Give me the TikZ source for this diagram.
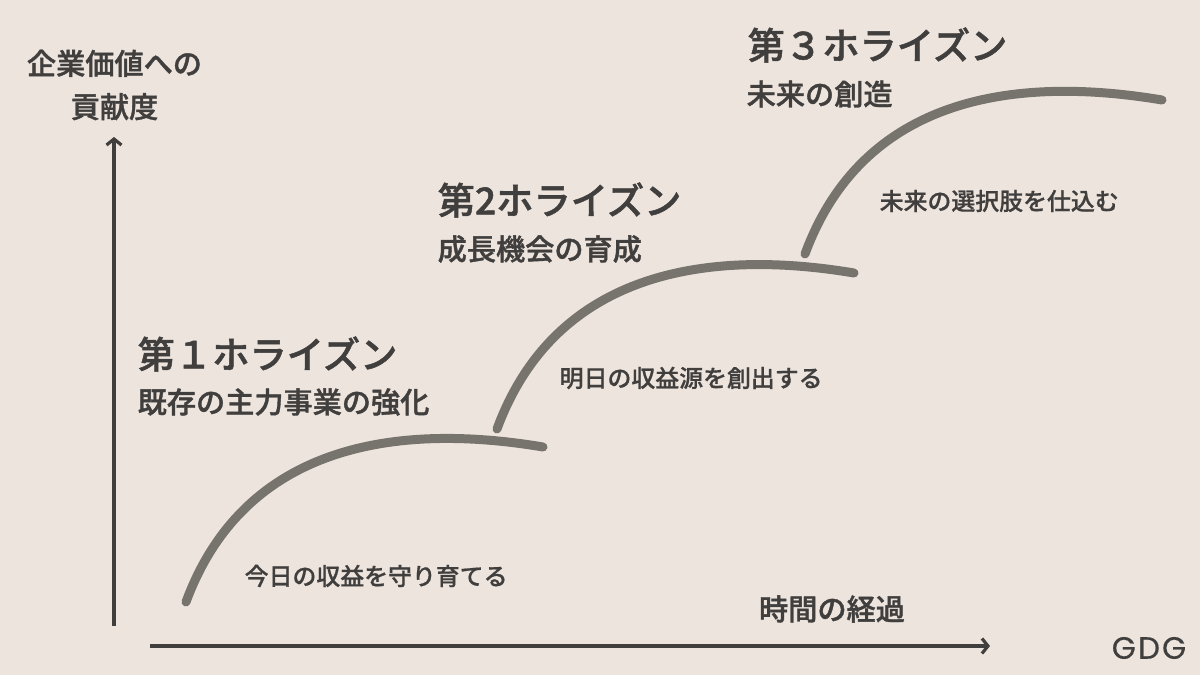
\documentclass[tikz,border=0pt]{standalone}
\usepackage{fontspec}
\setmainfont{Noto Sans CJK JP}
\newfontfamily\semifont[FakeBold=1.3]{Noto Sans CJK JP Medium}
\newfontfamily\capfont[FakeBold=0.7]{Noto Sans CJK JP Medium}
\newfontfamily\gdgfont[LetterSpace=7,FakeBold=0.3]{Poppins}
\usetikzlibrary{arrows.meta}
\definecolor{bgbeige}{HTML}{EDE4DE}
\definecolor{inkgray}{HTML}{403F3E}
\definecolor{curvegray}{HTML}{77736D}
\tikzset{
  axisline/.style={inkgray,line width=0.32mm,-{Straight Barb[length=0.6mm,width=1.5mm,line width=0.32mm]}},
  growth/.style={curvegray,line width=0.9mm,line cap=round},
  title/.style={inkgray,font=\fontsize{10.6pt}{12pt}\semifont,anchor=west,inner sep=0pt},
  subtitle/.style={inkgray,font=\fontsize{8.3pt}{10pt}\semifont,anchor=west,inner sep=0pt},
  caption/.style={inkgray,font=\fontsize{6.8pt}{8pt}\capfont,anchor=west,inner sep=0pt},
  axislabel/.style={inkgray,font=\fontsize{8.3pt}{12.3pt}\semifont,align=center,inner sep=0pt},
}
\begin{document}
\begin{tikzpicture}
\fill[bgbeige] (0,0) rectangle (12,6.75);
\useasboundingbox (0,0) rectangle (12,6.75);
% axes
\coordinate (ybottom) at (1.14,0.49);
\coordinate (ytop) at (1.14,5.38);
\coordinate (xleft) at (1.50,0.29);
\coordinate (xright) at (9.90,0.29);
\draw[axisline] (ybottom) -- (ytop);
\draw[axisline] (xleft) -- (xright);
\node[axislabel] (valuelabel) at (1.145,5.90) {企業価値への\\貢献度};
\node[axislabel] (timelabel) at (8.32,0.66) {時間の経過};
% horizons
\coordinate (hone) at (1.86,0.73);
\coordinate (honeend) at (5.43,2.28);
\coordinate (htwo) at (4.97,2.46);
\coordinate (htwoend) at (8.54,4.02);
\coordinate (hthree) at (8.05,4.21);
\coordinate (hthreeend) at (11.62,5.75);
\draw[growth] (hone) .. controls +(0.59,1.60) and +(-1.43,0.24) .. (honeend);
\draw[growth] (htwo) .. controls +(0.59,1.60) and +(-1.43,0.24) .. (htwoend);
\draw[growth] (hthree) .. controls +(0.59,1.60) and +(-1.43,0.24) .. (hthreeend);
% labels
\node[title] (honetitle) at (1.37,3.21) {第１ホライズン};
\node[subtitle] (honesub) at (1.37,2.73) {既存の主力事業の強化};
\node[caption] (honecap) at (2.44,0.99) {今日の収益を守り育てる};
\node[title] (htwotitle) at (4.37,4.75) {第2ホライズン};
\node[subtitle] (htwosub) at (4.37,4.26) {成長機会の育成};
\node[caption] (htwocap) at (5.59,2.97) {明日の収益源を創出する};
\node[title] (hthreetitle) at (7.47,6.30) {第３ホライズン};
\node[subtitle] (hthreesub) at (7.46,5.81) {未来の創造};
\node[caption] (hthreecap) at (8.79,4.74) {未来の選択肢を仕込む};
\node[text=inkgray,font=\fontsize{8.8pt}{10pt}\gdgfont,inner sep=0pt] (gdg) at (11.49,0.27) {GDG};
\end{tikzpicture}
\end{document}
